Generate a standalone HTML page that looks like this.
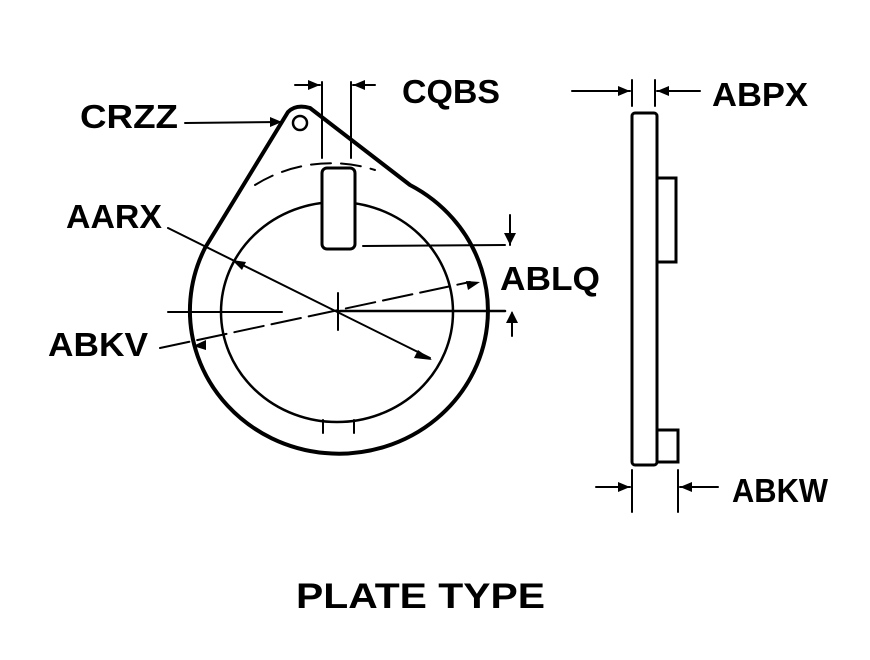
<!DOCTYPE html>
<html><head><style>
body{margin:0;background:#fff;}
svg{display:block;}
text{font-family:"Liberation Sans",sans-serif;font-weight:bold;fill:#000;}
</style></head><body>
<svg width="870" height="660" viewBox="0 0 870 660" xmlns="http://www.w3.org/2000/svg">
<g fill="none" stroke="#000" stroke-linecap="round">
<path d="M288,112 Q296,104 310,108 L410,185 A149,143 0 1 1 205,248 L288,112 Z" stroke-width="4"/>
<circle cx="300" cy="123" r="7" stroke-width="2.5"/>
<ellipse cx="337" cy="312" rx="116" ry="110" stroke-width="2.5"/>
<path d="M255,185 A140,135 0 0 1 375,170" stroke-width="2" stroke-dasharray="20,10"/>
<rect x="322" y="168" width="33" height="81" rx="5" fill="#fff" stroke-width="3"/>
<line x1="322" y1="82" x2="322" y2="158" stroke-width="2"/>
<line x1="351" y1="82" x2="351" y2="158" stroke-width="2"/>
<line x1="295" y1="85" x2="320" y2="85" stroke-width="2"/>
<line x1="353" y1="85" x2="375" y2="85" stroke-width="2"/>
<line x1="185" y1="123" x2="282" y2="122" stroke-width="2"/>
<line x1="363" y1="246" x2="505" y2="245" stroke-width="2"/>
<line x1="510" y1="215" x2="510" y2="245" stroke-width="2"/>
<line x1="340" y1="311" x2="505" y2="311" stroke-width="2.5"/>
<line x1="512" y1="313" x2="512" y2="336" stroke-width="2"/>
<line x1="168" y1="312" x2="282" y2="312" stroke-width="2"/>
<line x1="338" y1="293" x2="338" y2="330" stroke-width="2"/>
<line x1="168" y1="228" x2="430" y2="358" stroke-width="2"/>
<line x1="160" y1="348" x2="470" y2="282" stroke-width="2" stroke-dasharray="30,8"/>
<line x1="323" y1="420" x2="323" y2="433" stroke-width="2"/>
<line x1="354" y1="420" x2="354" y2="433" stroke-width="2"/>
<rect x="632" y="113" width="25" height="352" rx="3" stroke-width="3"/>
<path d="M657,178 H676 V262 H657" stroke-width="3"/>
<path d="M657,430 H678 V462 H657" stroke-width="3"/>
<line x1="632" y1="80" x2="632" y2="106" stroke-width="2"/>
<line x1="655" y1="80" x2="655" y2="106" stroke-width="2"/>
<line x1="572" y1="91" x2="630" y2="91" stroke-width="2"/>
<line x1="657" y1="91" x2="700" y2="91" stroke-width="2"/>
<line x1="632" y1="470" x2="632" y2="512" stroke-width="2"/>
<line x1="678" y1="470" x2="678" y2="512" stroke-width="2"/>
<line x1="596" y1="487" x2="630" y2="487" stroke-width="2"/>
<line x1="680" y1="487" x2="718" y2="487" stroke-width="2"/>
</g>
<g fill="#000">
<polygon points="282,122 270,117 270,127"/>
<polygon points="320,85 308,80 308,90"/>
<polygon points="353,85 365,80 365,90"/>
<polygon points="510,245 504,233 516,233"/>
<polygon points="512,311 506,323 518,323"/>
<polygon points="232,260 246,262 242,270"/>
<polygon points="432,360 418,350 414,358"/>
<polygon points="193,346 206,340 206,350"/>
<polygon points="480,282 466,281 468,290"/>
<polygon points="630,91 618,86 618,96"/>
<polygon points="657,91 669,86 669,96"/>
<polygon points="630,487 618,482 618,492"/>
<polygon points="680,487 692,482 692,492"/>
</g>
<g font-size="33">
<text x="80" y="128" textLength="98" lengthAdjust="spacingAndGlyphs">CRZZ</text>
<text x="402" y="103" textLength="98" lengthAdjust="spacingAndGlyphs">CQBS</text>
<text x="66" y="228" textLength="96" lengthAdjust="spacingAndGlyphs">AARX</text>
<text x="500" y="290" textLength="100" lengthAdjust="spacingAndGlyphs">ABLQ</text>
<text x="48" y="356" textLength="100" lengthAdjust="spacingAndGlyphs">ABKV</text>
<text x="712" y="106" textLength="96" lengthAdjust="spacingAndGlyphs">ABPX</text>
<text x="732" y="502" textLength="96" lengthAdjust="spacingAndGlyphs">ABKW</text>
<text x="296" y="608" font-size="35" textLength="249" lengthAdjust="spacingAndGlyphs">PLATE TYPE</text>
</g>
</svg>
</body></html>
